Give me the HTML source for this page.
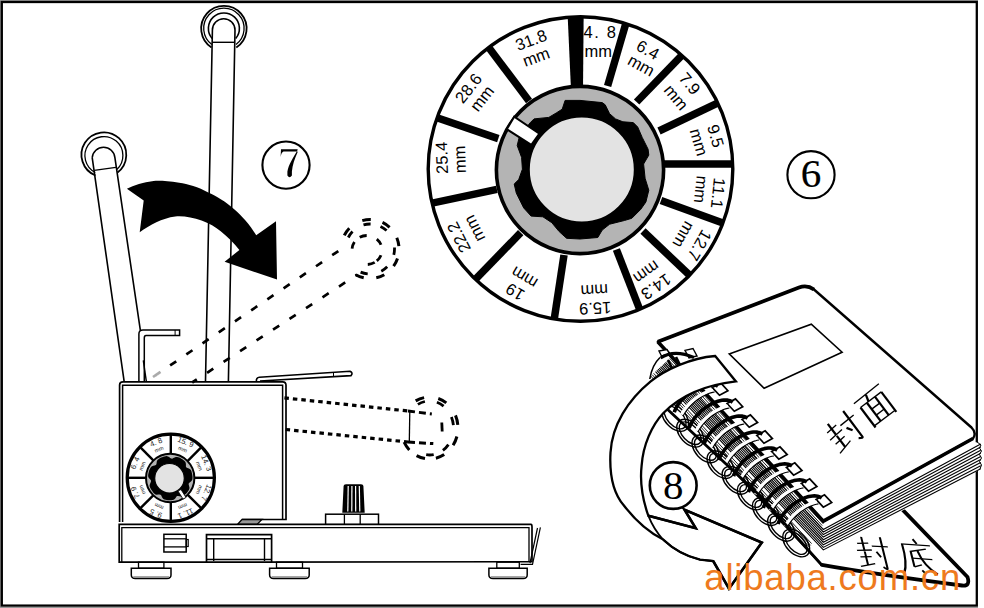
<!DOCTYPE html>
<html><head><meta charset="utf-8"><style>
html,body{margin:0;padding:0;background:#fff;}
svg{display:block;}
</style></head><body>
<svg width="984" height="608" viewBox="0 0 984 608" font-family="Liberation Sans, sans-serif">
<rect width="984" height="608" fill="#fff"/>
<path d="M0,0.5 L978,0.5 M0.5,0 L0.5,608 M0,607.5 L978,607.5" stroke="#999" stroke-width="1" fill="none"/>
<rect x="1.8" y="2" width="975" height="603.6" fill="none" stroke="#000" stroke-width="2.3"/>
<defs><clipPath id="dc"><circle cx="580.5" cy="169" r="152"/></clipPath></defs>
<circle cx="580.5" cy="169" r="152.3" fill="#fff"/>
<g clip-path="url(#dc)">
<line x1="627.6821061771506" y1="17.2406147195389" x2="607.6" y2="86" stroke="#000" stroke-width="7.5"/>
<line x1="685.4814015843777" y1="51.69699165813467" x2="636.6" y2="102" stroke="#000" stroke-width="7.5"/>
<line x1="722.2143895767088" y1="100.81458213984146" x2="659" y2="131" stroke="#000" stroke-width="7.5"/>
<line x1="739.0" y1="164.0" x2="664" y2="164" stroke="#000" stroke-width="7.5"/>
<line x1="728.3398273066457" y1="225.0475223933365" x2="661" y2="200.6" stroke="#000" stroke-width="7.5"/>
<line x1="693.3499966015664" y1="278.83249677148814" x2="643" y2="231" stroke="#000" stroke-width="7.5"/>
<line x1="640.872796664409" y1="312.49275912722277" x2="616.4" y2="249.5" stroke="#000" stroke-width="7.5"/>
<line x1="553.2973480180813" y1="325.33171302403764" x2="564" y2="255" stroke="#000" stroke-width="7.5"/>
<line x1="471.71846274722344" y1="283.10287650341513" x2="520.7" y2="232.7" stroke="#000" stroke-width="7.5"/>
<line x1="425.3299365733682" y1="204.5419160065477" x2="496.9" y2="189.4" stroke="#000" stroke-width="7.5"/>
<line x1="431.11908206847284" y1="115.7694116297737" x2="498.3" y2="138.6" stroke="#000" stroke-width="7.5"/>
<line x1="486.28522517641807" y1="44.311116729883835" x2="529" y2="100.9" stroke="#000" stroke-width="7.5"/>
<polygon points="567.4,10 583.7,10 583,90 571,90" fill="#000"/>
</g>
<circle cx="580.5" cy="169" r="152.3" fill="none" stroke="#000" stroke-width="3.4"/>
<text transform="translate(600.5,32.3) rotate(0)" x="0" y="5.91" text-anchor="middle" font-size="16.5" letter-spacing="1.6">4. 8</text>
<text transform="translate(598.2,52.5) rotate(0)" x="0" y="4.37" text-anchor="middle" font-size="16.5">mm</text>
<text transform="translate(648,49.7) rotate(29)" x="0" y="5.91" text-anchor="middle" font-size="16.5">6.4</text>
<text transform="translate(640.6,66.5) rotate(29)" x="0" y="4.37" text-anchor="middle" font-size="16.5">mm</text>
<text transform="translate(689.9,83.5) rotate(50)" x="0" y="5.91" text-anchor="middle" font-size="16.5">7.9</text>
<text transform="translate(675.1,98.3) rotate(50)" x="0" y="4.37" text-anchor="middle" font-size="16.5">mm</text>
<text transform="translate(715.8,136) rotate(74)" x="0" y="5.91" text-anchor="middle" font-size="16.5">9.5</text>
<text transform="translate(697.6,142.5) rotate(74)" x="0" y="4.37" text-anchor="middle" font-size="16.5">mm</text>
<text transform="translate(718.3,193.2) rotate(96)" x="0" y="5.91" text-anchor="middle" font-size="16.5">11.1</text>
<text transform="translate(699.6,189.3) rotate(96)" x="0" y="4.37" text-anchor="middle" font-size="16.5">mm</text>
<text transform="translate(699.7,245.4) rotate(120)" x="0" y="5.91" text-anchor="middle" font-size="16.5">12.7</text>
<text transform="translate(682.5,234) rotate(120)" x="0" y="4.37" text-anchor="middle" font-size="16.5">mm</text>
<text transform="translate(656.2,286.8) rotate(145)" x="0" y="5.91" text-anchor="middle" font-size="16.5">14.3</text>
<text transform="translate(645.8,271) rotate(145)" x="0" y="4.37" text-anchor="middle" font-size="16.5">mm</text>
<text transform="translate(595.3,308.5) rotate(177)" x="0" y="5.91" text-anchor="middle" font-size="16.5">15.9</text>
<text transform="translate(594.3,289.2) rotate(177)" x="0" y="4.37" text-anchor="middle" font-size="16.5">mm</text>
<text transform="translate(515,292.2) rotate(211)" x="0" y="5.91" text-anchor="middle" font-size="16.5">19</text>
<text transform="translate(524.9,276.4) rotate(211)" x="0" y="4.37" text-anchor="middle" font-size="16.5">mm</text>
<text transform="translate(458.7,237.5) rotate(243)" x="0" y="5.91" text-anchor="middle" font-size="16.5">22.2</text>
<text transform="translate(475.5,228) rotate(243)" x="0" y="4.37" text-anchor="middle" font-size="16.5">mm</text>
<text transform="translate(441.6,157.9) rotate(268)" x="0" y="5.91" text-anchor="middle" font-size="16.5">25.4</text>
<text transform="translate(461.2,159.5) rotate(268)" x="0" y="4.37" text-anchor="middle" font-size="16.5">mm</text>
<text transform="translate(468.3,88.1) rotate(308)" x="0" y="5.91" text-anchor="middle" font-size="16.5">28.6</text>
<text transform="translate(483,99.2) rotate(308)" x="0" y="4.37" text-anchor="middle" font-size="16.5">mm</text>
<text transform="translate(531,39.9) rotate(340)" x="0" y="5.91" text-anchor="middle" font-size="16.5">31.8</text>
<text transform="translate(536.6,58.1) rotate(340)" x="0" y="4.37" text-anchor="middle" font-size="16.5">mm</text>
<circle cx="580" cy="170" r="83.6" fill="#b4b4b4" stroke="#000" stroke-width="3.6"/>
<polygon points="565.1,100.4 580,100.4 602.2,102.6 605.2,104.8 609.6,113.7 615.5,118.9 622.9,121.8 633.3,122.6 637.7,127 642.2,137.4 648.1,149.2 648.8,155.1 643.6,164 645.1,178.3 648.8,190.2 645.9,202 640.7,209.4 631.8,218.3 624.4,220.5 609.6,224.2 602.2,230.1 597.8,237.5 580,239 566.6,238.3 559.2,231.6 551.8,222.7 542.9,216.8 531.1,216.1 523.7,207.9 516.3,193.1 514.2,184 518.7,179.6 522.4,169.2 521.6,157.4 517.2,145.5 519.4,136.6 530.3,122.6 534,118.9 548.8,117.4 556.2,113 562.2,109.2" fill="#000" stroke="#000" stroke-width="1" stroke-linejoin="round"/>
<circle cx="581.8" cy="169.5" r="53" fill="#e3e3e3" stroke="#000" stroke-width="2"/>
<polygon points="506.8,129.2 514.2,116.7 539.4,133.7 531.3,144.8" fill="#fff" stroke="#000" stroke-width="2"/>
<circle cx="286" cy="165.1" r="23.6" fill="#fff" stroke="#000" stroke-width="2.1"/>
<path d="M280.6,157 L281,149.3 L297.6,149.3 L297.6,151.6 L283.5,151.6 Q281.3,152.5 280.6,157 Z M297.6,150 C293,158 288.6,164.5 287.4,171.5 L287.4,175.5 Q289.5,179 291.9,175.5 L291.9,171.5 C292.4,165 294.8,158.5 297.6,152.2 Z" fill="#000"/>
<circle cx="811" cy="174.7" r="23.6" fill="#fff" stroke="#000" stroke-width="2.1"/>
<text x="811" y="187.2" text-anchor="middle" font-size="41" stroke="#000" stroke-width="0.2" font-family="Liberation Serif, serif">6</text>
<path d="M126.9,188.8 L143.7,200.6 L139.7,232.2 C150,225 162,218 175.3,216.4 C190,215 210,222 220.7,231.2 C228,237 234,243 239.4,250 L224.6,261.8 L277,279.6 L276,221.3 L256.2,235.2 C250,225 242,216 234.5,209.5 C225,201 216,196 208.8,192.7 C198,187 188,184 179.2,182.8 C168,181 160,180.5 153.6,180.9 C143,182 134,185 126.9,188.8 Z" fill="#000"/>
<path d="M212.4,30 A11.3,11.3 0 0 1 235,30 L228.4,381 M212.4,30 L205.5,381" stroke="#000" fill="none" stroke-width="1.6"/>
<line x1="212.2" y1="42.3" x2="234.8" y2="42.3" stroke="#000" stroke-width="1.4"/>
<path d="M211.5,47.5 A22.7,22.7 0 1 1 236.3,47.5" stroke="#000" fill="none" stroke-width="1.8"/>
<path d="M211.8,44.5 A20.2,20.2 0 1 1 236,44.5" stroke="#000" fill="none" stroke-width="1.3"/>
<path d="M212.1,38.5 A15.5,15.5 0 1 1 235.7,38.5" stroke="#000" fill="none" stroke-width="1.6"/>
<path d="M92.2,157.6 A11.4,11.4 0 0 1 114.9,157.6 L140.4,330.7 M92.2,157.6 L124.1,381.1" stroke="#000" fill="none" stroke-width="1.6"/>
<line x1="94.2" y1="170.4" x2="115.9" y2="167.4" stroke="#000" stroke-width="1.4"/>
<path d="M95.5,175.5 A22.4,22.4 0 1 1 117.5,172.5" stroke="#000" fill="none" stroke-width="1.8"/>
<path d="M95.3,172.5 A19,19 0 1 1 116.8,169.5" stroke="#000" fill="none" stroke-width="1.3"/>
<line x1="143.3" y1="360.3" x2="146.3" y2="381.1" stroke="#000" stroke-width="1.4"/>
<path d="M138.9,381 L138.9,334 Q138.9,330 143,330 L179.6,330 L179.6,335.5 L146,335.5 Q144.3,335.5 144.3,338 L144.3,381" stroke="#000" fill="none" stroke-width="1.5"/>
<line x1="175.1" y1="330" x2="175.1" y2="335.5" stroke="#000" stroke-width="1"/>
<line x1="155.9" y1="375.1" x2="341.5" y2="248.9" stroke="#000" stroke-width="2.7" stroke-dasharray="7.4 12.2" stroke-dashoffset="2.4"/>
<line x1="155.9" y1="375.1" x2="168" y2="366.9" stroke="#fff" stroke-width="4"/>
<line x1="153" y1="377" x2="168" y2="366.9" stroke="#aaa" stroke-width="2.7" stroke-dasharray="9 20"/>
<line x1="192.2" y1="382.5" x2="356.6" y2="275" stroke="#000" stroke-width="2.7" stroke-dasharray="7.4 12.3" stroke-dashoffset="1.9"/>
<path d="M344.3,235.4 A29,29.5 0 0 1 349.3,228.3 M362.3,220.6 A29,29.5 0 0 1 370.8,219.5 M382.5,222.4 A29,29.5 0 0 1 389.6,227.3 M396.8,237.7 A29,29.5 0 0 1 398.9,246.2 M397.5,258.4 A29,29.5 0 0 1 393.6,266.1 M384.3,274.7 A29,29.5 0 0 1 376.3,277.8 M363.7,277.8 A29,29.5 0 0 1 355.7,274.7 " fill="none" stroke="#000" stroke-width="3"/>
<path d="M348.3,237.5 A24.5,25 0 0 1 352.5,231.5 M363.5,224.9 A24.5,25 0 0 1 370.6,224.0 M380.5,226.4 A24.5,25 0 0 1 386.6,230.6 M394.5,247.5 A24.5,25 0 0 1 393.8,254.8 M387.2,266.8 A24.5,25 0 0 1 381.3,271.2 M367.7,273.9 A24.5,25 0 0 1 360.6,272.1 " fill="none" stroke="#000" stroke-width="2.8"/>
<path d="M352.1,248.7 A15,14.5 0 0 1 354.4,242.1 M359.7,237.3 A15,14.5 0 0 1 366.7,235.5 M376.8,239.1 A15,14.5 0 0 1 381.0,244.8 M381.0,255.2 A15,14.5 0 0 1 376.8,260.9 M374.7,262.4 A15,14.5 0 0 1 367.8,264.5 " fill="none" stroke="#000" stroke-width="2.8"/>
<path d="M119.6,522 L119.6,385 Q119.6,381.8 123,381.8 L282.6,381.8 Q286,381.8 286,385.2 L286,519.5 L242,519.5" stroke="#000" fill="none" stroke-width="1.7"/>
<path d="M122.6,522 L122.6,385.2 L282.6,385.2 L282.6,519.5" stroke="#000" fill="none" stroke-width="1.5"/>
<path d="M242,519.5 L237.5,524.4 L257,524.4 L262,519.5 Z" fill="#999" stroke="#000" stroke-width="1.3"/>
<path d="M256.4,381.5 Q256,377.5 259.4,377.3 L350,371.2 Q353.5,372.8 351,375.6 L260,381" stroke="#000" fill="none" stroke-width="1.6"/>
<line x1="333.5" y1="372.5" x2="333.5" y2="376.8" stroke="#000" stroke-width="1"/>
<path d="M119.2,562.2 L119.2,524.4 L531,524.4 Q532,524.4 532,527 L532,561.7 Z" stroke="#000" fill="none" stroke-width="1.7"/>
<path d="M121.8,562.2 L121.8,527.6 L529,527.6 L529,561.7" stroke="#000" fill="none" stroke-width="1.3"/>
<rect x="163.9" y="534.3" width="22.3" height="17.7" stroke="#000" fill="none" stroke-width="1.5"/>
<line x1="163.9" y1="538.8" x2="186.2" y2="538.8" stroke="#000" stroke-width="1.3"/><line x1="163.9" y1="546.9" x2="186.2" y2="546.9" stroke="#000" stroke-width="1.3"/>
<rect x="186.2" y="539.5" width="2" height="7" stroke="#000" fill="none" stroke-width="1.2"/>
<path d="M206.5,562.2 L206.5,534.7 L271.6,534.7 L271.6,562.2" stroke="#000" fill="none" stroke-width="1.7"/>
<path d="M213.7,561 L213.7,538.8 L264.5,538.8 L264.5,561 M206.5,538.8 L271.6,538.8 M206,559.5 L272,559.5" stroke="#000" fill="none" stroke-width="1.4"/>
<rect x="138.5" y="562.2" width="25.400000000000006" height="6" stroke="#000" fill="none" stroke-width="1.3"/>
<path d="M131.3,568.3 L171,568.3 L171,575 Q171,578.4 167,578.4 L135.3,578.4 Q131.3,578.4 131.3,575 Z" fill="#fff" stroke="#000" stroke-width="1.5"/>
<line x1="133.3" y1="577" x2="169" y2="577" stroke="#888" stroke-width="1.5"/>
<rect x="276.5" y="562.2" width="26.0" height="6" stroke="#000" fill="none" stroke-width="1.3"/>
<path d="M269.6,568.3 L309.2,568.3 L309.2,575 Q309.2,578.4 305.2,578.4 L273.6,578.4 Q269.6,578.4 269.6,575 Z" fill="#fff" stroke="#000" stroke-width="1.5"/>
<line x1="271.6" y1="577" x2="307.2" y2="577" stroke="#888" stroke-width="1.5"/>
<rect x="496.8" y="562.2" width="22.499999999999943" height="6" stroke="#000" fill="none" stroke-width="1.3"/>
<path d="M488.9,568.3 L527.2,568.3 L527.2,575 Q527.2,578.4 523.2,578.4 L492.9,578.4 Q488.9,578.4 488.9,575 Z" fill="#fff" stroke="#000" stroke-width="1.5"/>
<line x1="490.9" y1="577" x2="525.2" y2="577" stroke="#888" stroke-width="1.5"/>
<path d="M540.4,527.4 L532.5,564.4 L520.6,564.4 M537.5,528 L530,563" stroke="#000" fill="none" stroke-width="1.2"/>
<rect x="325.6" y="514.2" width="52.9" height="10" fill="#fff" stroke="#000" stroke-width="1.5"/>
<line x1="344.4" y1="514.2" x2="344.4" y2="524.2" stroke="#000" stroke-width="1.3"/><line x1="360.2" y1="514.2" x2="360.2" y2="524.2" stroke="#000" stroke-width="1.3"/>
<path d="M343.6,486 Q343.6,484.3 346,484.3 L361,484.3 Q363.4,484.3 363.4,486 L364.7,512.8 L342.3,512.8 Z" fill="#000"/>
<line x1="348.2" y1="486" x2="347.8" y2="511.5" stroke="#fff" stroke-width="1.2"/>
<line x1="351.9" y1="486" x2="351.8" y2="511.5" stroke="#fff" stroke-width="1.2"/>
<line x1="355.6" y1="486" x2="355.7" y2="511.5" stroke="#fff" stroke-width="1.2"/>
<line x1="359.3" y1="486" x2="359.8" y2="511.5" stroke="#fff" stroke-width="1.2"/>
<line x1="284.4" y1="397.9" x2="408" y2="411" stroke="#000" stroke-width="3.2" stroke-dasharray="4.5 4"/>
<line x1="285.6" y1="429.5" x2="408" y2="442" stroke="#000" stroke-width="3.2" stroke-dasharray="4.5 4"/>
<line x1="409.8" y1="411" x2="409.3" y2="442" stroke="#000" stroke-width="1.3"/>
<path d="M415.7,400.9 A28.5,31 0 0 1 424.1,397.6 M438.3,398.5 A28.5,31 0 0 1 446.3,402.9 M455.5,415.4 A28.5,31 0 0 1 457.8,424.8 M456.9,436.5 A28.5,31 0 0 1 453.1,445.3 M444.2,454.6 A28.5,31 0 0 1 435.9,458.2 M425.0,458.6 A28.5,31 0 0 1 416.6,455.6 M409.3,449.9 A28.5,31 0 0 1 404.1,442.1 " fill="none" stroke="#000" stroke-width="3"/>
<path d="M417.9,404.4 A24,27 0 0 1 424.9,401.5 M436.9,402.3 A24,27 0 0 1 443.6,406.2 M451.4,417.0 A24,27 0 0 1 453.4,425.2 M448.4,444.6 A24,27 0 0 1 442.9,450.4 M433.7,454.6 A24,27 0 0 1 426.2,454.7 " fill="none" stroke="#000" stroke-width="2.8"/>
<line x1="408" y1="411" x2="431.8" y2="414" stroke="#000" stroke-width="3" stroke-dasharray="7 4"/>
<line x1="408" y1="442" x2="433.3" y2="443.6" stroke="#000" stroke-width="3" stroke-dasharray="7 4"/>
<path d="M441.8,422.5 L442.2,431.5" stroke="#000" stroke-width="2.8"/>
<circle cx="170.8" cy="477.8" r="43.6" fill="#fff" stroke="#000" stroke-width="3.2"/>
<line x1="170.8" y1="453.8" x2="170.8" y2="433.8" stroke="#000" stroke-width="2.4"/>
<line x1="187.8" y1="460.8" x2="201.9" y2="446.7" stroke="#000" stroke-width="2.4"/>
<line x1="194.8" y1="477.8" x2="214.8" y2="477.8" stroke="#000" stroke-width="2.4"/>
<line x1="187.8" y1="494.8" x2="201.9" y2="508.9" stroke="#000" stroke-width="2.4"/>
<line x1="170.8" y1="501.8" x2="170.8" y2="521.8" stroke="#000" stroke-width="2.4"/>
<line x1="153.8" y1="494.8" x2="139.7" y2="508.9" stroke="#000" stroke-width="2.4"/>
<line x1="146.8" y1="477.8" x2="126.8" y2="477.8" stroke="#000" stroke-width="2.4"/>
<line x1="153.8" y1="460.8" x2="139.7" y2="446.7" stroke="#000" stroke-width="2.4"/>
<text transform="translate(157.0,444.5) rotate(-22.5)" text-anchor="middle" font-size="7.5" fill="#222">4. 8</text>
<text transform="translate(159.7,451.0) rotate(-22.5)" text-anchor="middle" font-size="5.5" fill="#222">mm</text>
<text transform="translate(184.6,444.5) rotate(22.5)" text-anchor="middle" font-size="7.5" fill="#222">15. 9</text>
<text transform="translate(181.9,451.0) rotate(22.5)" text-anchor="middle" font-size="5.5" fill="#222">mm</text>
<text transform="translate(204.1,464.0) rotate(67.5)" text-anchor="middle" font-size="7.5" fill="#222">14. 3</text>
<text transform="translate(197.6,466.7) rotate(67.5)" text-anchor="middle" font-size="5.5" fill="#222">mm</text>
<text transform="translate(204.1,491.6) rotate(112.5)" text-anchor="middle" font-size="7.5" fill="#222">12. 7</text>
<text transform="translate(197.6,488.9) rotate(112.5)" text-anchor="middle" font-size="5.5" fill="#222">mm</text>
<text transform="translate(184.6,511.1) rotate(157.5)" text-anchor="middle" font-size="7.5" fill="#222">11. 1</text>
<text transform="translate(181.9,504.6) rotate(157.5)" text-anchor="middle" font-size="5.5" fill="#222">mm</text>
<text transform="translate(157.0,511.1) rotate(202.5)" text-anchor="middle" font-size="7.5" fill="#222">9. 5</text>
<text transform="translate(159.7,504.6) rotate(202.5)" text-anchor="middle" font-size="5.5" fill="#222">mm</text>
<text transform="translate(137.5,491.6) rotate(247.5)" text-anchor="middle" font-size="7.5" fill="#222">7. 9</text>
<text transform="translate(144.0,488.9) rotate(247.5)" text-anchor="middle" font-size="5.5" fill="#222">mm</text>
<text transform="translate(137.5,464.0) rotate(292.5)" text-anchor="middle" font-size="7.5" fill="#222">6. 4</text>
<text transform="translate(144.0,466.7) rotate(292.5)" text-anchor="middle" font-size="5.5" fill="#222">mm</text>
<circle cx="170.2" cy="478" r="24.2" fill="#b4b4b4" stroke="#000" stroke-width="2"/>
<polygon points="192.5,478.0 192.4,479.2 192.0,480.3 191.2,481.3 190.1,482.2 189.0,483.0 188.6,484.0 188.8,485.1 189.2,486.5 189.5,487.8 189.3,489.1 188.9,490.1 188.2,491.1 187.5,492.0 186.8,492.9 186.0,493.8 185.1,494.6 184.2,495.3 183.3,496.0 182.2,496.4 180.9,496.5 179.5,496.2 178.2,495.9 177.1,496.0 176.3,496.8 175.6,498.0 174.7,499.1 173.7,499.8 172.5,500.1 171.4,500.3 170.2,500.3 169.0,500.3 167.9,500.2 166.7,500.0 165.6,499.8 164.4,499.5 163.4,498.9 162.5,498.0 161.8,496.8 161.3,495.5 160.5,494.7 159.5,494.5 158.1,494.6 156.7,494.7 155.5,494.4 154.5,493.7 153.6,492.9 152.9,492.0 152.2,491.1 151.5,490.1 150.9,489.1 150.3,488.1 149.9,487.1 149.6,485.9 149.7,484.7 150.2,483.4 150.8,482.1 151.1,481.0 150.7,480.0 149.8,479.1 148.9,478.0 148.3,476.9 148.1,475.7 148.2,474.5 148.4,473.4 148.7,472.2 149.0,471.1 149.4,470.0 149.8,468.9 150.4,467.9 151.0,466.9 152.0,466.2 153.3,465.7 154.7,465.5 155.8,465.1 156.4,464.2 156.6,462.9 156.8,461.5 157.3,460.3 158.1,459.4 159.1,458.7 160.1,458.1 161.1,457.6 162.2,457.2 163.3,456.8 164.4,456.5 165.6,456.2 166.7,456.1 167.9,456.4 169.1,457.0 170.2,458.0 171.2,458.6 172.2,458.7 173.4,458.1 174.6,457.4 175.8,456.9 177.1,456.9 178.2,457.2 179.3,457.6 180.3,458.1 181.3,458.7 182.3,459.3 183.3,460.0 184.2,460.7 185.0,461.5 185.6,462.6 185.9,463.9 185.9,465.3 185.9,466.6 186.4,467.5 187.5,468.0 188.9,468.5 190.1,469.2 190.9,470.1 191.4,471.1 191.7,472.2 192.0,473.4 192.2,474.5 192.4,475.7 192.5,476.8" fill="#000"/>
<circle cx="169.5" cy="478.3" r="14.8" fill="#e3e3e3" stroke="#000" stroke-width="1.2"/>
<polygon points="178,491 181,489.5 186,497.5 183,499" fill="#fff" stroke="#000" stroke-width="0.8"/>
<path d="M736.5,473.7 L821.8,564.9 Q870,573.5 962,585.5 Q970,586.5 968,578 L901.8,508 L830,540 Z" fill="#fff"/>
<path d="M736.5,473.7 L821.8,564.9" fill="none" stroke="#000" stroke-width="2.2"/>
<path d="M821.8,564.9 Q870,573.5 962,585.5 Q970.5,586.5 967.5,577 L898,505" fill="none" stroke="#000" stroke-width="3.8" stroke-linecap="round" stroke-linejoin="round"/>
<polygon points="671.6,356.7 828.6,525.9 974.0,441.9 981.0,443.0 981.0,469.0 823.3,552.5 649.6,377.1" fill="#fff"/>
<polyline points="665.5,362.3 823.3,529.5 980.7,444.0" fill="none" stroke="#000" stroke-width="1.1"/>
<polyline points="664.3,363.5 823.3,532.0 980.7,447.1" fill="none" stroke="#000" stroke-width="1.1"/>
<polyline points="663.0,364.6 823.3,534.6 980.7,450.2" fill="none" stroke="#000" stroke-width="1.1"/>
<polyline points="661.8,365.8 823.3,537.1 980.7,453.3" fill="none" stroke="#000" stroke-width="1.1"/>
<polyline points="660.5,366.9 823.3,539.7 980.7,456.4" fill="none" stroke="#000" stroke-width="1.1"/>
<polyline points="659.3,368.1 823.3,542.2 980.7,459.5" fill="none" stroke="#000" stroke-width="1.1"/>
<polyline points="658.0,369.2 823.3,544.8 980.7,462.6" fill="none" stroke="#000" stroke-width="1.1"/>
<polyline points="656.8,370.4 823.3,547.4 980.7,465.7" fill="none" stroke="#000" stroke-width="1.1"/>
<polyline points="655.5,371.6 823.3,549.9 980.7,468.8" fill="none" stroke="#000" stroke-width="1.1"/>
<path d="M976.5,441.5 L981,445 L979.5,448 L981.5,451 L979.5,454.5 L981.5,458 L979.5,461.5 L981.5,465 L980,469" fill="none" stroke="#000" stroke-width="1"/>
<line x1="669.8" y1="358.4" x2="823.3" y2="523.8" stroke="#000" stroke-width="0.9"/>
<line x1="668.3" y1="359.7" x2="822.2" y2="525.6" stroke="#000" stroke-width="0.9"/>
<line x1="666.8" y1="361.1" x2="821.2" y2="527.4" stroke="#000" stroke-width="0.9"/>
<line x1="653.6" y1="373.3" x2="811.6" y2="543.6" stroke="#000" stroke-width="0.9"/>
<line x1="652.2" y1="374.7" x2="810.6" y2="545.4" stroke="#000" stroke-width="0.9"/>
<line x1="650.7" y1="376.0" x2="809.5" y2="547.2" stroke="#000" stroke-width="0.9"/>
<path d="M657.8,341.8 L799,287.5 Q807,284.5 814,289.5 L971.5,427.5 Q977,433 973,438.5 L823.3,521.2 Z" fill="#fff" stroke="#000" stroke-width="2.4" stroke-linejoin="round"/>
<path d="M657.8,341.8 L799,287.5 Q807,284.5 814,289.5" fill="none" stroke="#000" stroke-width="3.8"/>
<path d="M973,438.5 L823.3,521.2 L657.8,341.8" fill="none" stroke="#000" stroke-width="3.6" stroke-linejoin="miter"/>
<polygon points="729.2,353.9 811.3,324.2 842.1,352.2 764.1,388.2" fill="#fff" stroke="#000" stroke-width="1.6"/>
<g transform="translate(844.6,431.2) rotate(-37) translate(-18,-18)" fill="none" stroke="#000" stroke-linecap="butt"><path d="M3,9 L15,8" stroke-width="1.35"/><path d="M9,2 L9,16" stroke-width="2.2"/><path d="M1,16.5 L17,15" stroke-width="1.35"/><path d="M3,23 L15,22" stroke-width="1.35"/><path d="M9,17 L9,31" stroke-width="2.2"/><path d="M1,33 L17,29" stroke-width="1.35"/><path d="M18,11 L35,10.5" stroke-width="1.35"/><path d="M29,1 L29,33 Q29,35 25,32" stroke-width="2.2"/><path d="M21.5,16.5 L25,22" stroke-width="2.2"/></g>
<g transform="translate(875.7,406.1) rotate(-37) translate(-18,-18)" fill="none" stroke="#000" stroke-linecap="butt"><path d="M2,3 L34,2" stroke-width="1.35"/><path d="M17,3 L15,10" stroke-width="2.2"/><path d="M5,10 L5,35" stroke-width="2.2"/><path d="M5,10 L31,10" stroke-width="1.35"/><path d="M31,10 L31,35" stroke-width="2.2"/><path d="M5,33 L31,33" stroke-width="1.35"/><path d="M13,10 L13,33" stroke-width="2.2"/><path d="M23,10 L23,33" stroke-width="2.2"/><path d="M13,18 L23,18" stroke-width="1.35"/><path d="M13,25.5 L23,25.5" stroke-width="1.35"/></g>
<g transform="translate(873.5,553) rotate(4) skewX(18) scale(0.95) translate(-18,-18)" fill="none" stroke="#000" stroke-linecap="butt"><path d="M3,9 L15,8" stroke-width="1.35"/><path d="M9,2 L9,16" stroke-width="2.2"/><path d="M1,16.5 L17,15" stroke-width="1.35"/><path d="M3,23 L15,22" stroke-width="1.35"/><path d="M9,17 L9,31" stroke-width="2.2"/><path d="M1,33 L17,29" stroke-width="1.35"/><path d="M18,11 L35,10.5" stroke-width="1.35"/><path d="M29,1 L29,33 Q29,35 25,32" stroke-width="2.2"/><path d="M21.5,16.5 L25,22" stroke-width="2.2"/></g>
<g transform="translate(917,557) rotate(4) skewX(18) scale(1.0) translate(-18,-18)" fill="none" stroke="#000" stroke-linecap="butt"><path d="M18,0.5 L21,5" stroke-width="2.2"/><path d="M5,6 L34,6" stroke-width="1.35"/><path d="M6,6 Q7,24 1,35" stroke-width="2.2"/><path d="M12,13 L29,9.5" stroke-width="1.35"/><path d="M13,13 L13,28" stroke-width="2.2"/><path d="M13,19.5 L33,19.5" stroke-width="1.35"/><path d="M20,12 Q23,27 35,34" stroke-width="2.2"/><path d="M13,28 L21,25.5" stroke-width="1.35"/><path d="M20,31 L23,34.5" stroke-width="2.2"/></g>
<polygon points="713.1,374.7 704.7,379.3 697.5,371.6 705.9,366.9" fill="#fff" stroke="#000" stroke-width="1.7"/>
<polygon points="727.9,390.7 719.5,395.3 712.3,387.6 720.7,382.9" fill="#fff" stroke="#000" stroke-width="1.7"/>
<polygon points="742.7,406.7 734.3,411.3 727.1,403.5 735.5,398.9" fill="#fff" stroke="#000" stroke-width="1.7"/>
<polygon points="757.6,422.6 749.2,427.3 742.0,419.5 750.4,414.9" fill="#fff" stroke="#000" stroke-width="1.7"/>
<polygon points="772.4,438.6 764.0,443.3 756.8,435.5 765.2,430.8" fill="#fff" stroke="#000" stroke-width="1.7"/>
<polygon points="787.2,454.6 778.8,459.2 771.6,451.5 780.0,446.8" fill="#fff" stroke="#000" stroke-width="1.7"/>
<polygon points="802.0,470.6 793.6,475.2 786.4,467.4 794.8,462.8" fill="#fff" stroke="#000" stroke-width="1.7"/>
<polygon points="816.9,486.6 808.5,491.2 801.3,483.4 809.7,478.8" fill="#fff" stroke="#000" stroke-width="1.7"/>
<polygon points="831.7,502.5 823.3,507.2 816.1,499.4 824.5,494.8" fill="#fff" stroke="#000" stroke-width="1.7"/>
<polyline points="698.3,374.5 696.4,374.9 694.4,375.4 692.4,376.1 690.4,376.9 688.3,377.9 686.3,379.0 684.2,380.2 682.2,381.5 680.2,383.0 678.3,384.5 676.5,386.1 674.8,387.8 673.1,389.6 671.6,391.3 670.2,393.1 668.9,395.0 667.8,396.8 666.8,398.6" fill="none" stroke="#fff" stroke-width="3.6"/>
<polyline points="699.8,376.1 697.8,376.4 695.9,376.9 693.9,377.6 691.8,378.4 689.7,379.4 687.7,380.5 685.6,381.7 683.6,383.1 681.7,384.5 679.8,386.0 677.9,387.7 676.2,389.3 674.6,391.1 673.0,392.9 671.6,394.7 670.4,396.5 669.2,398.3 668.3,400.1" fill="none" stroke="#000" stroke-width="1.1"/>
<polyline points="703.1,370.2 701.9,369.5 700.5,368.9 699.1,368.4 697.5,368.2 695.8,368.1 694.0,368.1 692.2,368.4 690.2,368.7 688.3,369.3 686.2,370.0 684.2,370.8 682.1,371.8 680.1,373.0 678.0,374.2 676.0,375.6 674.1,377.0 672.2,378.6 670.4,380.2 668.7,381.9 667.0,383.7 665.5,385.5 664.2,387.3 662.9,389.1 661.8,390.9 660.9,392.7 660.1,394.5 659.5,396.2" fill="none" stroke="#000" stroke-width="3.6" stroke-linejoin="round"/>
<ellipse cx="0" cy="0" rx="16.3" ry="10.3" transform="translate(675.1,417.5) rotate(47.1)" fill="none" stroke="#000" stroke-width="1.4"/>
<ellipse cx="0" cy="0" rx="13.7" ry="7.7" transform="translate(675.1,417.5) rotate(47.1)" fill="none" stroke="#000" stroke-width="1.4"/>
<polyline points="713.2,390.5 711.2,390.9 709.3,391.4 707.2,392.1 705.2,392.9 703.1,393.8 701.1,394.9 699.0,396.2 697.0,397.5 695.1,398.9 693.2,400.5 691.3,402.1 689.6,403.8 688.0,405.5 686.4,407.3 685.0,409.1 683.8,410.9 682.6,412.8 681.7,414.6" fill="none" stroke="#fff" stroke-width="3.6"/>
<polyline points="714.6,392.0 712.7,392.4 710.7,392.9 708.7,393.6 706.6,394.4 704.6,395.4 702.5,396.5 700.5,397.7 698.5,399.0 696.5,400.5 694.6,402.0 692.8,403.6 691.0,405.3 689.4,407.1 687.9,408.9 686.5,410.7 685.2,412.5 684.1,414.3 683.1,416.1" fill="none" stroke="#000" stroke-width="1.1"/>
<polyline points="717.9,386.2 716.7,385.5 715.4,384.9 713.9,384.4 712.3,384.2 710.6,384.0 708.9,384.1 707.0,384.3 705.1,384.7 703.1,385.3 701.1,386.0 699.0,386.8 696.9,387.8 694.9,388.9 692.9,390.2 690.9,391.6 688.9,393.0 687.0,394.6 685.2,396.2 683.5,397.9 681.9,399.7 680.4,401.4 679.0,403.3 677.8,405.1 676.7,406.9 675.7,408.7 674.9,410.4 674.3,412.2" fill="none" stroke="#000" stroke-width="3.6" stroke-linejoin="round"/>
<ellipse cx="0" cy="0" rx="16.3" ry="10.3" transform="translate(690.2,433.2) rotate(47.1)" fill="none" stroke="#000" stroke-width="1.4"/>
<ellipse cx="0" cy="0" rx="13.7" ry="7.7" transform="translate(690.2,433.2) rotate(47.1)" fill="none" stroke="#000" stroke-width="1.4"/>
<polyline points="728.0,406.5 726.1,406.8 724.1,407.4 722.1,408.0 720.0,408.9 718.0,409.8 715.9,410.9 713.9,412.1 711.9,413.5 709.9,414.9 708.0,416.5 706.2,418.1 704.4,419.8 702.8,421.5 701.3,423.3 699.9,425.1 698.6,426.9 697.5,428.7 696.5,430.5" fill="none" stroke="#fff" stroke-width="3.6"/>
<polyline points="729.4,408.0 727.5,408.4 725.5,408.9 723.5,409.6 721.5,410.4 719.4,411.4 717.3,412.5 715.3,413.7 713.3,415.0 711.3,416.5 709.4,418.0 707.6,419.6 705.8,421.3 704.2,423.0 702.7,424.8 701.3,426.6 700.0,428.5 698.9,430.3 697.9,432.1" fill="none" stroke="#000" stroke-width="1.1"/>
<polyline points="732.7,402.2 731.5,401.4 730.2,400.8 728.7,400.4 727.2,400.1 725.5,400.0 723.7,400.1 721.8,400.3 719.9,400.7 717.9,401.3 715.9,402.0 713.8,402.8 711.8,403.8 709.7,404.9 707.7,406.2 705.7,407.5 703.7,409.0 701.8,410.6 700.0,412.2 698.3,413.9 696.7,415.6 695.2,417.4 693.8,419.2 692.6,421.1 691.5,422.9 690.5,424.7 689.8,426.4 689.1,428.1" fill="none" stroke="#000" stroke-width="3.6" stroke-linejoin="round"/>
<ellipse cx="0" cy="0" rx="16.3" ry="10.3" transform="translate(705.4,448.9) rotate(47.1)" fill="none" stroke="#000" stroke-width="1.4"/>
<ellipse cx="0" cy="0" rx="13.7" ry="7.7" transform="translate(705.4,448.9) rotate(47.1)" fill="none" stroke="#000" stroke-width="1.4"/>
<polyline points="742.8,422.5 740.9,422.8 738.9,423.3 736.9,424.0 734.8,424.8 732.8,425.8 730.7,426.9 728.7,428.1 726.7,429.5 724.7,430.9 722.8,432.4 721.0,434.1 719.2,435.7 717.6,437.5 716.1,439.3 714.7,441.1 713.4,442.9 712.3,444.7 711.3,446.5" fill="none" stroke="#fff" stroke-width="3.6"/>
<polyline points="744.2,424.0 742.3,424.4 740.3,424.9 738.3,425.6 736.3,426.4 734.2,427.3 732.2,428.4 730.1,429.7 728.1,431.0 726.1,432.4 724.2,434.0 722.4,435.6 720.7,437.3 719.0,439.0 717.5,440.8 716.1,442.6 714.8,444.4 713.7,446.3 712.7,448.1" fill="none" stroke="#000" stroke-width="1.1"/>
<polyline points="747.5,418.2 746.3,417.4 745.0,416.8 743.6,416.4 742.0,416.1 740.3,416.0 738.5,416.1 736.7,416.3 734.7,416.7 732.7,417.2 730.7,417.9 728.7,418.8 726.6,419.8 724.5,420.9 722.5,422.2 720.5,423.5 718.5,425.0 716.7,426.5 714.8,428.2 713.1,429.9 711.5,431.6 710.0,433.4 708.6,435.2 707.4,437.0 706.3,438.8 705.4,440.6 704.6,442.4 704.0,444.1" fill="none" stroke="#000" stroke-width="3.6" stroke-linejoin="round"/>
<ellipse cx="0" cy="0" rx="16.3" ry="10.3" transform="translate(720.5,464.6) rotate(47.1)" fill="none" stroke="#000" stroke-width="1.4"/>
<ellipse cx="0" cy="0" rx="13.7" ry="7.7" transform="translate(720.5,464.6) rotate(47.1)" fill="none" stroke="#000" stroke-width="1.4"/>
<polyline points="757.6,438.4 755.7,438.8 753.7,439.3 751.7,440.0 749.7,440.8 747.6,441.8 745.6,442.9 743.5,444.1 741.5,445.4 739.5,446.9 737.6,448.4 735.8,450.0 734.1,451.7 732.4,453.5 730.9,455.2 729.5,457.1 728.2,458.9 727.1,460.7 726.1,462.5" fill="none" stroke="#fff" stroke-width="3.6"/>
<polyline points="759.1,440.0 757.1,440.3 755.2,440.9 753.1,441.5 751.1,442.4 749.0,443.3 747.0,444.4 744.9,445.6 742.9,447.0 741.0,448.4 739.1,450.0 737.2,451.6 735.5,453.3 733.9,455.0 732.3,456.8 730.9,458.6 729.7,460.4 728.5,462.2 727.6,464.0" fill="none" stroke="#000" stroke-width="1.1"/>
<polyline points="762.4,434.1 761.2,433.4 759.8,432.8 758.4,432.4 756.8,432.1 755.1,432.0 753.3,432.0 751.5,432.3 749.5,432.7 747.6,433.2 745.5,433.9 743.5,434.8 741.4,435.8 739.4,436.9 737.3,438.1 735.3,439.5 733.4,441.0 731.5,442.5 729.7,444.1 728.0,445.8 726.3,447.6 724.8,449.4 723.5,451.2 722.2,453.0 721.1,454.8 720.2,456.6 719.4,458.4 718.8,460.1" fill="none" stroke="#000" stroke-width="3.6" stroke-linejoin="round"/>
<ellipse cx="0" cy="0" rx="16.3" ry="10.3" transform="translate(735.6,480.3) rotate(47.1)" fill="none" stroke="#000" stroke-width="1.4"/>
<ellipse cx="0" cy="0" rx="13.7" ry="7.7" transform="translate(735.6,480.3) rotate(47.1)" fill="none" stroke="#000" stroke-width="1.4"/>
<polyline points="772.5,454.4 770.5,454.8 768.6,455.3 766.5,456.0 764.5,456.8 762.4,457.8 760.4,458.9 758.3,460.1 756.3,461.4 754.4,462.9 752.5,464.4 750.6,466.0 748.9,467.7 747.3,469.4 745.7,471.2 744.3,473.0 743.1,474.9 741.9,476.7 741.0,478.5" fill="none" stroke="#fff" stroke-width="3.6"/>
<polyline points="773.9,456.0 772.0,456.3 770.0,456.8 768.0,457.5 765.9,458.3 763.9,459.3 761.8,460.4 759.8,461.6 757.8,463.0 755.8,464.4 753.9,465.9 752.1,467.6 750.3,469.2 748.7,471.0 747.2,472.8 745.8,474.6 744.5,476.4 743.4,478.2 742.4,480.0" fill="none" stroke="#000" stroke-width="1.1"/>
<polyline points="777.2,450.1 776.0,449.4 774.7,448.8 773.2,448.3 771.6,448.1 769.9,448.0 768.2,448.0 766.3,448.3 764.4,448.6 762.4,449.2 760.4,449.9 758.3,450.7 756.2,451.7 754.2,452.9 752.1,454.1 750.1,455.5 748.2,456.9 746.3,458.5 744.5,460.1 742.8,461.8 741.2,463.6 739.7,465.4 738.3,467.2 737.0,469.0 736.0,470.8 735.0,472.6 734.2,474.4 733.6,476.1" fill="none" stroke="#000" stroke-width="3.6" stroke-linejoin="round"/>
<ellipse cx="0" cy="0" rx="16.3" ry="10.3" transform="translate(750.8,496.0) rotate(47.1)" fill="none" stroke="#000" stroke-width="1.4"/>
<ellipse cx="0" cy="0" rx="13.7" ry="7.7" transform="translate(750.8,496.0) rotate(47.1)" fill="none" stroke="#000" stroke-width="1.4"/>
<polyline points="787.3,470.4 785.4,470.8 783.4,471.3 781.4,472.0 779.3,472.8 777.3,473.7 775.2,474.8 773.2,476.1 771.1,477.4 769.2,478.8 767.3,480.4 765.5,482.0 763.7,483.7 762.1,485.4 760.6,487.2 759.2,489.0 757.9,490.8 756.8,492.7 755.8,494.5" fill="none" stroke="#fff" stroke-width="3.6"/>
<polyline points="788.7,471.9 786.8,472.3 784.8,472.8 782.8,473.5 780.7,474.3 778.7,475.3 776.6,476.4 774.6,477.6 772.6,478.9 770.6,480.4 768.7,481.9 766.9,483.5 765.1,485.2 763.5,487.0 762.0,488.7 760.6,490.6 759.3,492.4 758.2,494.2 757.2,496.0" fill="none" stroke="#000" stroke-width="1.1"/>
<polyline points="792.0,466.1 790.8,465.3 789.5,464.8 788.0,464.3 786.5,464.0 784.8,463.9 783.0,464.0 781.1,464.2 779.2,464.6 777.2,465.2 775.2,465.9 773.1,466.7 771.1,467.7 769.0,468.8 767.0,470.1 765.0,471.4 763.0,472.9 761.1,474.5 759.3,476.1 757.6,477.8 756.0,479.6 754.5,481.3 753.1,483.1 751.9,485.0 750.8,486.8 749.8,488.6 749.1,490.3 748.4,492.1" fill="none" stroke="#000" stroke-width="3.6" stroke-linejoin="round"/>
<ellipse cx="0" cy="0" rx="16.3" ry="10.3" transform="translate(765.9,511.6) rotate(47.1)" fill="none" stroke="#000" stroke-width="1.4"/>
<ellipse cx="0" cy="0" rx="13.7" ry="7.7" transform="translate(765.9,511.6) rotate(47.1)" fill="none" stroke="#000" stroke-width="1.4"/>
<polyline points="802.1,486.4 800.2,486.7 798.2,487.3 796.2,487.9 794.1,488.8 792.1,489.7 790.0,490.8 788.0,492.0 786.0,493.4 784.0,494.8 782.1,496.4 780.3,498.0 778.5,499.7 776.9,501.4 775.4,503.2 774.0,505.0 772.7,506.8 771.6,508.6 770.6,510.4" fill="none" stroke="#fff" stroke-width="3.6"/>
<polyline points="803.5,487.9 801.6,488.3 799.6,488.8 797.6,489.5 795.6,490.3 793.5,491.3 791.5,492.4 789.4,493.6 787.4,494.9 785.4,496.4 783.5,497.9 781.7,499.5 780.0,501.2 778.3,502.9 776.8,504.7 775.4,506.5 774.1,508.4 773.0,510.2 772.0,512.0" fill="none" stroke="#000" stroke-width="1.1"/>
<polyline points="806.8,482.1 805.6,481.3 804.3,480.7 802.9,480.3 801.3,480.0 799.6,479.9 797.8,480.0 795.9,480.2 794.0,480.6 792.0,481.2 790.0,481.9 788.0,482.7 785.9,483.7 783.8,484.8 781.8,486.1 779.8,487.4 777.8,488.9 776.0,490.4 774.1,492.1 772.4,493.8 770.8,495.5 769.3,497.3 767.9,499.1 766.7,500.9 765.6,502.8 764.7,504.6 763.9,506.3 763.3,508.0" fill="none" stroke="#000" stroke-width="3.6" stroke-linejoin="round"/>
<ellipse cx="0" cy="0" rx="16.3" ry="10.3" transform="translate(781.1,527.3) rotate(47.1)" fill="none" stroke="#000" stroke-width="1.4"/>
<ellipse cx="0" cy="0" rx="13.7" ry="7.7" transform="translate(781.1,527.3) rotate(47.1)" fill="none" stroke="#000" stroke-width="1.4"/>
<polyline points="816.9,502.4 815.0,502.7 813.0,503.2 811.0,503.9 809.0,504.7 806.9,505.7 804.8,506.8 802.8,508.0 800.8,509.4 798.8,510.8 796.9,512.3 795.1,514.0 793.4,515.6 791.7,517.4 790.2,519.2 788.8,521.0 787.5,522.8 786.4,524.6 785.4,526.4" fill="none" stroke="#fff" stroke-width="3.6"/>
<polyline points="818.4,503.9 816.4,504.3 814.5,504.8 812.4,505.5 810.4,506.3 808.3,507.2 806.3,508.3 804.2,509.6 802.2,510.9 800.3,512.3 798.4,513.9 796.5,515.5 794.8,517.2 793.2,518.9 791.6,520.7 790.2,522.5 789.0,524.3 787.8,526.2 786.9,528.0" fill="none" stroke="#000" stroke-width="1.1"/>
<polyline points="821.7,498.1 820.5,497.3 819.1,496.7 817.7,496.3 816.1,496.0 814.4,495.9 812.6,496.0 810.8,496.2 808.8,496.6 806.9,497.1 804.8,497.8 802.8,498.7 800.7,499.7 798.7,500.8 796.6,502.0 794.6,503.4 792.7,504.9 790.8,506.4 789.0,508.1 787.2,509.8 785.6,511.5 784.1,513.3 782.8,515.1 781.5,516.9 780.4,518.7 779.5,520.5 778.7,522.3 778.1,524.0" fill="none" stroke="#000" stroke-width="3.6" stroke-linejoin="round"/>
<ellipse cx="0" cy="0" rx="16.3" ry="10.3" transform="translate(796.2,543.0) rotate(47.1)" fill="none" stroke="#000" stroke-width="1.4"/>
<ellipse cx="0" cy="0" rx="13.7" ry="7.7" transform="translate(796.2,543.0) rotate(47.1)" fill="none" stroke="#000" stroke-width="1.4"/>
<path d="M649.8,379 Q652,365 660,357.5" fill="none" stroke="#000" stroke-width="1.6"/>
<polygon points="659,351 667,349.5 669.5,354 661.5,356" fill="#fff" stroke="#000" stroke-width="1.4"/>
<polygon points="685,350.4 693,348.5 697,356 689,358" fill="#fff" stroke="#000" stroke-width="1.4"/>
<path d="M660.6,358 Q674,349 694,357.5" fill="none" stroke="#000" stroke-width="3"/>
<path d="M668,360 L672,368 M676,357 L680,365" fill="none" stroke="#000" stroke-width="2.6"/>
<polyline points="655.9,398.5 758.4,494.3 821.5,564.7" fill="none" stroke="#000" stroke-width="2.8"/>
<path d="M715.2,356 C690,358 665,370 650.7,381.4 C628,400 612,425 610.5,452.6 C609,480 615,495 623.7,505.3 C635,520 648,532 663.2,539.5 C672,548 685,556 700,559.7 L713.2,561 L729,588.7 L761.8,542.6 L684.5,509.7 L695.7,528.2 L648.3,515.7 C641,495 640,480 641.6,465.8 C643,445 652,425 663.2,413.2 C680,396 705,385 735.9,381.4 Z" fill="#fff" stroke="#000" stroke-width="2.3" stroke-linejoin="miter"/>
<path d="M648.3,515.7 C652,525 656,532 663.4,540 C672,548 685,556 700,559.7 L713.2,561" fill="none" stroke="#000" stroke-width="1.8"/>
<path d="M648.3,515.7 L695.7,528.2 L684.5,509.7 L761.8,542.6 L729,588.7 L713.2,561" fill="none" stroke="#000" stroke-width="2.6" stroke-linejoin="miter"/>
<circle cx="673.2" cy="485.5" r="23.4" fill="#fff" stroke="#000" stroke-width="2.6"/>
<text x="673.2" y="498.8" text-anchor="middle" font-size="41" font-family="Liberation Serif, serif">8</text>
<text x="704.3" y="590.4" font-size="36.5" letter-spacing="0.8" fill="#EE7A1E" font-family="Liberation Sans, sans-serif">alibaba.com.cn</text>
</svg></body></html>
